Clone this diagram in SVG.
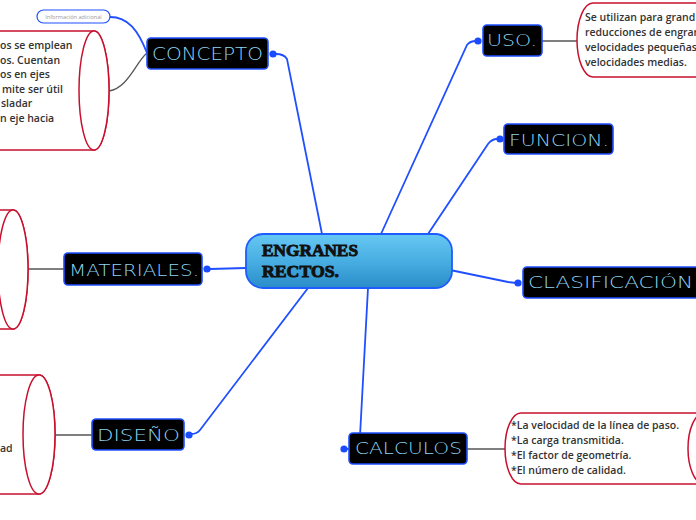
<svg xmlns="http://www.w3.org/2000/svg" width="696" height="520" viewBox="0 0 696 520">
<defs>
<linearGradient id="cg" x1="0" y1="0" x2="0" y2="1">
<stop offset="0" stop-color="#66c8f3"/>
<stop offset="0.55" stop-color="#45abe0"/>
<stop offset="1" stop-color="#2a8cc8"/>
</linearGradient>
</defs>
<style>
.lnk{fill:none;stroke:#1f4fff;stroke-width:1.8;stroke-linecap:round}
.gl{fill:none;stroke:#555;stroke-width:1.3}
.dot{fill:#1a4bff}
.nb{fill:#000;stroke:#1f4fff;stroke-width:1.6}
.nt{fill:#8fd3f0;font-family:"DejaVu Sans",sans-serif;font-weight:300}
.cyl{fill:#fff;stroke:#c8102e;stroke-width:1.5}
.bt{fill:#333;font-family:"Open Sans",sans-serif;font-weight:600;font-size:10.5px}
</style>
<rect width="696" height="520" fill="#fff"/>
<g id="connectors">
<path class="lnk" d="M322,234 L287,59 Q284,54 276,54"/>
<path class="lnk" d="M381,234 L467,45 Q470,41 476,41"/>
<path class="lnk" d="M428,234 L488,144 Q492,139 497,139"/>
<path class="lnk" d="M450,270 L508,282 L516,283"/>
<path class="lnk" d="M246,268 L210,269"/>
<path class="lnk" d="M308,288 L200,430 Q197,434 191,434"/>
<path class="lnk" d="M368,288 L360,436 Q359,449 346,449"/>
<path class="lnk" d="M147,53 C138,30 128,17 110,17" stroke-width="1.4"/>
<path class="gl" d="M109,91 C128,88 136,62 147,53"/>
<path class="gl" d="M542,41 L577,41"/>
<path class="gl" d="M467,449 L505,449"/>
<path class="gl" d="M28,269 L64,269"/>
<path class="gl" d="M55,435 L92,435"/>
</g>
<g id="info">
<rect x="37" y="10" width="73" height="13" rx="6.5" fill="#fff" stroke="#1f4fff" stroke-width="1.2"/>
<text x="73.5" y="19" text-anchor="middle" font-family="Open Sans,sans-serif" font-size="5.6" fill="#999">Información adicional</text>
</g>
<g id="concept-note">
<path class="cyl" d="M-10,31 L94,31 A15,59.5 0 0 1 94,150 L-10,150 Z"/>
<ellipse class="cyl" cx="94" cy="90.5" rx="15" ry="59.5"/>
<text class="bt"><tspan x="0" y="49">os se emplean</tspan><tspan x="0" y="64">os. Cuentan</tspan><tspan x="0" y="78">os en ejes</tspan><tspan x="2" y="93">mite ser útil</tspan><tspan x="1" y="107">sladar</tspan><tspan x="0" y="122">n eje hacia</tspan></text>
</g>
<g id="materiales-note">
<path class="cyl" d="M-10,210 L13,210 A15,59.5 0 0 1 13,329 L-10,329 Z"/>
<ellipse class="cyl" cx="13" cy="269.5" rx="15" ry="59.5"/>
</g>
<g id="diseno-note">
<path class="cyl" d="M-10,375 L39,375 A16,59.5 0 0 1 39,494 L-10,494 Z"/>
<ellipse class="cyl" cx="39" cy="434.5" rx="16" ry="59.5"/>
<text class="bt" x="0" y="452">ad</text>
</g>
<g id="uso-note">
<path class="cyl" d="M710,3 L593,3 A16,37 0 0 0 593,77 L710,77"/>
<text class="bt"><tspan x="585" y="21">Se utilizan para grand</tspan><tspan x="585" y="36">reducciones de engran</tspan><tspan x="585" y="51">velocidades pequeñas</tspan><tspan x="585" y="66">velocidades medias.</tspan></text>
</g>
<g id="calculos-note">
<path class="cyl" d="M720,413 L521,413 A16,35.5 0 0 0 521,484 L720,484 Z"/>
<ellipse class="cyl" cx="704" cy="448.5" rx="16" ry="35.5"/>
<text class="bt"><tspan x="511" y="429">*La velocidad de la línea de paso.</tspan><tspan x="511" y="444">*La carga transmitida.</tspan><tspan x="511" y="459">*El factor de geometría.</tspan><tspan x="511" y="474">*El número de calidad.</tspan></text>
</g>
<g id="center">
<rect x="246" y="234" width="206" height="54" rx="17" fill="url(#cg)" stroke="#1f5cff" stroke-width="1.8"/>
<text font-family="Liberation Serif,serif" font-weight="bold" font-size="17" fill="#111" stroke="#111" stroke-width="0.9"><tspan x="262" y="256" textLength="96" lengthAdjust="spacingAndGlyphs">ENGRANES</tspan><tspan x="262" y="277" textLength="77" lengthAdjust="spacingAndGlyphs">RECTOS.</tspan></text>
</g>
<g id="concepto">
<rect class="nb" x="147" y="38" width="121" height="31" rx="4"/>
<text class="nt" x="152" y="60" font-size="17" textLength="111" lengthAdjust="spacingAndGlyphs">CONCEPTO</text>
<circle class="dot" cx="273" cy="54" r="3.6"/>
</g>
<g id="uso">
<rect class="nb" x="483" y="25" width="59" height="31" rx="4"/>
<text class="nt" x="487" y="46" font-size="15.5" textLength="50" lengthAdjust="spacingAndGlyphs">USO.</text>
<circle class="dot" cx="478" cy="41" r="3.6"/>
</g>
<g id="funcion">
<rect class="nb" x="504" y="124" width="109" height="30" rx="4"/>
<text class="nt" x="509" y="146" font-size="15.5" textLength="100" lengthAdjust="spacingAndGlyphs">FUNCION.</text>
<circle class="dot" cx="500" cy="139" r="3.6"/>
</g>
<g id="clasificacion">
<rect class="nb" x="523" y="267" width="190" height="31" rx="4"/>
<text class="nt" x="528" y="288" font-size="16" textLength="165" lengthAdjust="spacingAndGlyphs">CLASIFICACIÓN</text>
<circle class="dot" cx="518" cy="283" r="3.6"/>
</g>
<g id="materiales">
<rect class="nb" x="64" y="253" width="138" height="32" rx="4"/>
<text class="nt" x="69" y="276" font-size="16.5" textLength="130" lengthAdjust="spacingAndGlyphs">MATERIALES.</text>
<circle class="dot" cx="207" cy="269" r="3.6"/>
</g>
<g id="diseno">
<rect class="nb" x="92" y="419" width="92" height="31" rx="4"/>
<text class="nt" x="97" y="441" font-size="16.5" textLength="83" lengthAdjust="spacingAndGlyphs">DISEÑO</text>
<circle class="dot" cx="189" cy="435" r="3.6"/>
</g>
<g id="calculos">
<rect class="nb" x="349" y="433" width="118" height="31" rx="4"/>
<text class="nt" x="355" y="454" font-size="16.5" textLength="107" lengthAdjust="spacingAndGlyphs">CALCULOS</text>
<circle class="dot" cx="344" cy="449" r="3.6"/>
</g>
</svg>
